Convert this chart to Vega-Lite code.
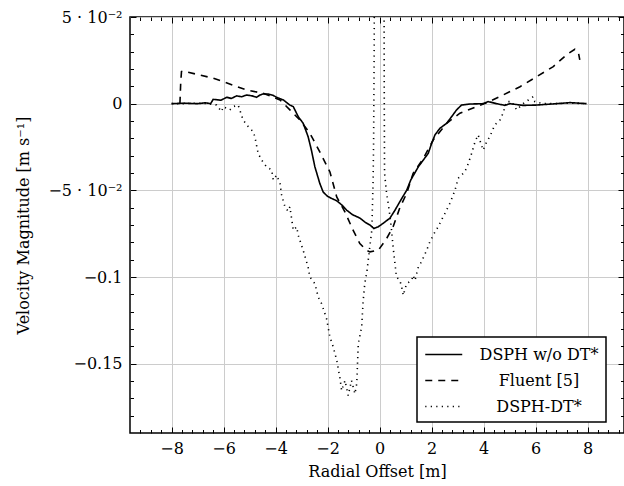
{
  "$schema": "https://vega.github.io/schema/vega-lite/v6.json",
  "width": 494,
  "height": 416,
  "autosize": "none",
  "padding": {"left": 130, "top": 17, "right": 0, "bottom": 53},
  "config": {
    "font": "DejaVu Serif",
    "view": {"stroke": "black", "strokeWidth": 1.5},
    "axis": {
      "labelFont": "DejaVu Serif",
      "titleFont": "DejaVu Serif",
      "labelFontSize": 16,
      "titleFontSize": 16,
      "titleFontWeight": "normal",
      "labelColor": "black",
      "titleColor": "black",
      "domain": false,
      "tickColor": "black",
      "tickWidth": 1,
      "gridColor": "#cccccc",
      "gridWidth": 1,
      "labelFlush": false,
      "labelOverlap": false
    },
    "legend": {"labelFont": "DejaVu Serif"}
  },
  "datasets": {
    "main": [
      {"series": "DSPH w/o DT*", "x": -8.0, "y": 0},
      {"series": "DSPH w/o DT*", "x": -7.5, "y": 0.0003},
      {"series": "DSPH w/o DT*", "x": -7.0, "y": 0},
      {"series": "DSPH w/o DT*", "x": -6.7, "y": 0.0005},
      {"series": "DSPH w/o DT*", "x": -6.5, "y": 0.0},
      {"series": "DSPH w/o DT*", "x": -6.4, "y": 0.0025},
      {"series": "DSPH w/o DT*", "x": -6.1, "y": 0.002},
      {"series": "DSPH w/o DT*", "x": -5.88, "y": 0.0037},
      {"series": "DSPH w/o DT*", "x": -5.7, "y": 0.003},
      {"series": "DSPH w/o DT*", "x": -5.5, "y": 0.0045},
      {"series": "DSPH w/o DT*", "x": -5.3, "y": 0.004},
      {"series": "DSPH w/o DT*", "x": -5.12, "y": 0.005},
      {"series": "DSPH w/o DT*", "x": -4.9, "y": 0.0045},
      {"series": "DSPH w/o DT*", "x": -4.73, "y": 0.0037},
      {"series": "DSPH w/o DT*", "x": -4.6, "y": 0.005},
      {"series": "DSPH w/o DT*", "x": -4.48, "y": 0.0056},
      {"series": "DSPH w/o DT*", "x": -4.28, "y": 0.0056},
      {"series": "DSPH w/o DT*", "x": -4.1, "y": 0.0048},
      {"series": "DSPH w/o DT*", "x": -3.96, "y": 0.0037},
      {"series": "DSPH w/o DT*", "x": -3.7, "y": 0.0021},
      {"series": "DSPH w/o DT*", "x": -3.45, "y": -0.0008},
      {"series": "DSPH w/o DT*", "x": -3.32, "y": -0.0017},
      {"series": "DSPH w/o DT*", "x": -3.13, "y": -0.0075},
      {"series": "DSPH w/o DT*", "x": -2.94, "y": -0.0113},
      {"series": "DSPH w/o DT*", "x": -2.75, "y": -0.019},
      {"series": "DSPH w/o DT*", "x": -2.62, "y": -0.027},
      {"series": "DSPH w/o DT*", "x": -2.49, "y": -0.0364},
      {"series": "DSPH w/o DT*", "x": -2.3, "y": -0.046},
      {"series": "DSPH w/o DT*", "x": -2.17, "y": -0.051},
      {"series": "DSPH w/o DT*", "x": -2.0, "y": -0.0535},
      {"series": "DSPH w/o DT*", "x": -1.8, "y": -0.055},
      {"series": "DSPH w/o DT*", "x": -1.65, "y": -0.056},
      {"series": "DSPH w/o DT*", "x": -1.45, "y": -0.0585},
      {"series": "DSPH w/o DT*", "x": -1.27, "y": -0.0614},
      {"series": "DSPH w/o DT*", "x": -1.05, "y": -0.064},
      {"series": "DSPH w/o DT*", "x": -0.76, "y": -0.066},
      {"series": "DSPH w/o DT*", "x": -0.55, "y": -0.0685},
      {"series": "DSPH w/o DT*", "x": -0.37, "y": -0.070},
      {"series": "DSPH w/o DT*", "x": -0.22, "y": -0.072},
      {"series": "DSPH w/o DT*", "x": -0.05, "y": -0.071},
      {"series": "DSPH w/o DT*", "x": 0.14, "y": -0.069},
      {"series": "DSPH w/o DT*", "x": 0.4, "y": -0.066},
      {"series": "DSPH w/o DT*", "x": 0.59, "y": -0.0615},
      {"series": "DSPH w/o DT*", "x": 0.78, "y": -0.0565},
      {"series": "DSPH w/o DT*", "x": 1.04, "y": -0.05},
      {"series": "DSPH w/o DT*", "x": 1.2, "y": -0.044},
      {"series": "DSPH w/o DT*", "x": 1.49, "y": -0.0364},
      {"series": "DSPH w/o DT*", "x": 1.87, "y": -0.0287},
      {"series": "DSPH w/o DT*", "x": 2.0, "y": -0.023},
      {"series": "DSPH w/o DT*", "x": 2.13, "y": -0.018},
      {"series": "DSPH w/o DT*", "x": 2.32, "y": -0.0142},
      {"series": "DSPH w/o DT*", "x": 2.58, "y": -0.0113},
      {"series": "DSPH w/o DT*", "x": 2.77, "y": -0.0075},
      {"series": "DSPH w/o DT*", "x": 2.96, "y": -0.0036},
      {"series": "DSPH w/o DT*", "x": 3.15, "y": -0.0008},
      {"series": "DSPH w/o DT*", "x": 3.47, "y": -0.0002},
      {"series": "DSPH w/o DT*", "x": 3.98, "y": 0},
      {"series": "DSPH w/o DT*", "x": 4.18, "y": 0.0012},
      {"series": "DSPH w/o DT*", "x": 4.5, "y": 0},
      {"series": "DSPH w/o DT*", "x": 4.82, "y": -0.001},
      {"series": "DSPH w/o DT*", "x": 5.01, "y": 0},
      {"series": "DSPH w/o DT*", "x": 5.52, "y": -0.001},
      {"series": "DSPH w/o DT*", "x": 6.04, "y": -0.0008},
      {"series": "DSPH w/o DT*", "x": 6.8, "y": 0},
      {"series": "DSPH w/o DT*", "x": 7.32, "y": 0.0006},
      {"series": "DSPH w/o DT*", "x": 7.96, "y": 0},
      {"series": "Fluent [5]", "x": -7.68, "y": 0},
      {"series": "Fluent [5]", "x": -7.65, "y": 0.012},
      {"series": "Fluent [5]", "x": -7.62, "y": 0.0185},
      {"series": "Fluent [5]", "x": -7.55, "y": 0.0188},
      {"series": "Fluent [5]", "x": -6.4, "y": 0.0147},
      {"series": "Fluent [5]", "x": -5.12, "y": 0.0079},
      {"series": "Fluent [5]", "x": -4.48, "y": 0.006},
      {"series": "Fluent [5]", "x": -3.83, "y": 0.0021},
      {"series": "Fluent [5]", "x": -3.45, "y": -0.0036},
      {"series": "Fluent [5]", "x": -3.07, "y": -0.0094},
      {"series": "Fluent [5]", "x": -2.68, "y": -0.0171},
      {"series": "Fluent [5]", "x": -2.3, "y": -0.0278},
      {"series": "Fluent [5]", "x": -1.91, "y": -0.0394},
      {"series": "Fluent [5]", "x": -1.65, "y": -0.0538},
      {"series": "Fluent [5]", "x": -1.33, "y": -0.0625},
      {"series": "Fluent [5]", "x": -1.02, "y": -0.073},
      {"series": "Fluent [5]", "x": -0.76, "y": -0.0807},
      {"series": "Fluent [5]", "x": -0.5, "y": -0.0846},
      {"series": "Fluent [5]", "x": -0.37, "y": -0.0855},
      {"series": "Fluent [5]", "x": -0.2, "y": -0.085},
      {"series": "Fluent [5]", "x": -0.05, "y": -0.0846},
      {"series": "Fluent [5]", "x": 0.27, "y": -0.0778},
      {"series": "Fluent [5]", "x": 0.52, "y": -0.071},
      {"series": "Fluent [5]", "x": 0.78, "y": -0.060},
      {"series": "Fluent [5]", "x": 1.04, "y": -0.0518},
      {"series": "Fluent [5]", "x": 1.29, "y": -0.0402},
      {"series": "Fluent [5]", "x": 1.68, "y": -0.0316},
      {"series": "Fluent [5]", "x": 2.06, "y": -0.021},
      {"series": "Fluent [5]", "x": 2.58, "y": -0.0113},
      {"series": "Fluent [5]", "x": 3.09, "y": -0.0055},
      {"series": "Fluent [5]", "x": 3.73, "y": -0.0017},
      {"series": "Fluent [5]", "x": 4.12, "y": 0.0006},
      {"series": "Fluent [5]", "x": 4.75, "y": 0.005},
      {"series": "Fluent [5]", "x": 5.4, "y": 0.0098},
      {"series": "Fluent [5]", "x": 6.04, "y": 0.0156},
      {"series": "Fluent [5]", "x": 6.68, "y": 0.0214},
      {"series": "Fluent [5]", "x": 7.19, "y": 0.0282},
      {"series": "Fluent [5]", "x": 7.51, "y": 0.0314},
      {"series": "Fluent [5]", "x": 7.64, "y": 0.030},
      {"series": "Fluent [5]", "x": 7.7, "y": 0.0253}
    ],
    "dt": [
      {"series": "DSPH-DT*", "x": -8.0, "y": 0},
      {"series": "DSPH-DT*", "x": -7.5, "y": 0},
      {"series": "DSPH-DT*", "x": -7.0, "y": 0.0003},
      {"series": "DSPH-DT*", "x": -6.6, "y": 0},
      {"series": "DSPH-DT*", "x": -6.27, "y": -0.0008},
      {"series": "DSPH-DT*", "x": -6.08, "y": -0.0046},
      {"series": "DSPH-DT*", "x": -6.01, "y": -0.0017},
      {"series": "DSPH-DT*", "x": -5.76, "y": -0.0036},
      {"series": "DSPH-DT*", "x": -5.63, "y": -0.0017},
      {"series": "DSPH-DT*", "x": -5.44, "y": -0.0008},
      {"series": "DSPH-DT*", "x": -5.25, "y": -0.0094},
      {"series": "DSPH-DT*", "x": -5.05, "y": -0.0133},
      {"series": "DSPH-DT*", "x": -4.86, "y": -0.0162},
      {"series": "DSPH-DT*", "x": -4.8, "y": -0.019},
      {"series": "DSPH-DT*", "x": -4.67, "y": -0.0287},
      {"series": "DSPH-DT*", "x": -4.54, "y": -0.0325},
      {"series": "DSPH-DT*", "x": -4.35, "y": -0.0364},
      {"series": "DSPH-DT*", "x": -4.15, "y": -0.0383},
      {"series": "DSPH-DT*", "x": -4.09, "y": -0.044},
      {"series": "DSPH-DT*", "x": -3.96, "y": -0.0412},
      {"series": "DSPH-DT*", "x": -3.83, "y": -0.046},
      {"series": "DSPH-DT*", "x": -3.77, "y": -0.0525},
      {"series": "DSPH-DT*", "x": -3.64, "y": -0.0595},
      {"series": "DSPH-DT*", "x": -3.52, "y": -0.062},
      {"series": "DSPH-DT*", "x": -3.45, "y": -0.0595},
      {"series": "DSPH-DT*", "x": -3.32, "y": -0.073},
      {"series": "DSPH-DT*", "x": -3.19, "y": -0.0711},
      {"series": "DSPH-DT*", "x": -3.13, "y": -0.0759},
      {"series": "DSPH-DT*", "x": -2.94, "y": -0.0846},
      {"series": "DSPH-DT*", "x": -2.75, "y": -0.0942},
      {"series": "DSPH-DT*", "x": -2.68, "y": -0.1},
      {"series": "DSPH-DT*", "x": -2.49, "y": -0.1038},
      {"series": "DSPH-DT*", "x": -2.36, "y": -0.1116},
      {"series": "DSPH-DT*", "x": -2.23, "y": -0.1154},
      {"series": "DSPH-DT*", "x": -2.04, "y": -0.124},
      {"series": "DSPH-DT*", "x": -1.91, "y": -0.1347},
      {"series": "DSPH-DT*", "x": -1.78, "y": -0.1405},
      {"series": "DSPH-DT*", "x": -1.65, "y": -0.148},
      {"series": "DSPH-DT*", "x": -1.53, "y": -0.1578},
      {"series": "DSPH-DT*", "x": -1.46, "y": -0.1655},
      {"series": "DSPH-DT*", "x": -1.33, "y": -0.1597},
      {"series": "DSPH-DT*", "x": -1.21, "y": -0.1684},
      {"series": "DSPH-DT*", "x": -1.08, "y": -0.1597},
      {"series": "DSPH-DT*", "x": -0.95, "y": -0.1674},
      {"series": "DSPH-DT*", "x": -0.88, "y": -0.1616},
      {"series": "DSPH-DT*", "x": -0.82, "y": -0.1385},
      {"series": "DSPH-DT*", "x": -0.69, "y": -0.1289},
      {"series": "DSPH-DT*", "x": -0.63, "y": -0.1135},
      {"series": "DSPH-DT*", "x": -0.57, "y": -0.1038},
      {"series": "DSPH-DT*", "x": -0.48, "y": -0.0961},
      {"series": "DSPH-DT*", "x": -0.42, "y": -0.088},
      {"series": "DSPH-DT*", "x": -0.3, "y": -0.073},
      {"series": "DSPH-DT*", "x": -0.25, "y": -0.044},
      {"series": "DSPH-DT*", "x": -0.23, "y": -0.02},
      {"series": "DSPH-DT*", "x": -0.21, "y": 0.03},
      {"series": "DSPH-DT*", "x": -0.2, "y": 0.07},
      {"series": "DSPH-DT*", "x": -0.02, "y": 0.12},
      {"series": "DSPH-DT*", "x": 0.17, "y": 0.07},
      {"series": "DSPH-DT*", "x": 0.18, "y": 0.0},
      {"series": "DSPH-DT*", "x": 0.19, "y": -0.04},
      {"series": "DSPH-DT*", "x": 0.27, "y": -0.052},
      {"series": "DSPH-DT*", "x": 0.33, "y": -0.0575},
      {"series": "DSPH-DT*", "x": 0.4, "y": -0.065},
      {"series": "DSPH-DT*", "x": 0.46, "y": -0.073},
      {"series": "DSPH-DT*", "x": 0.52, "y": -0.0827},
      {"series": "DSPH-DT*", "x": 0.59, "y": -0.0923},
      {"series": "DSPH-DT*", "x": 0.65, "y": -0.1},
      {"series": "DSPH-DT*", "x": 0.78, "y": -0.102},
      {"series": "DSPH-DT*", "x": 0.85, "y": -0.1058},
      {"series": "DSPH-DT*", "x": 0.91, "y": -0.1106},
      {"series": "DSPH-DT*", "x": 1.04, "y": -0.1038},
      {"series": "DSPH-DT*", "x": 1.23, "y": -0.102},
      {"series": "DSPH-DT*", "x": 1.29, "y": -0.099},
      {"series": "DSPH-DT*", "x": 1.36, "y": -0.102},
      {"series": "DSPH-DT*", "x": 1.49, "y": -0.0942},
      {"series": "DSPH-DT*", "x": 1.61, "y": -0.0913},
      {"series": "DSPH-DT*", "x": 1.81, "y": -0.0846},
      {"series": "DSPH-DT*", "x": 1.93, "y": -0.0798},
      {"series": "DSPH-DT*", "x": 2.13, "y": -0.074},
      {"series": "DSPH-DT*", "x": 2.25, "y": -0.0711},
      {"series": "DSPH-DT*", "x": 2.38, "y": -0.0672},
      {"series": "DSPH-DT*", "x": 2.51, "y": -0.0634},
      {"series": "DSPH-DT*", "x": 2.7, "y": -0.0576},
      {"series": "DSPH-DT*", "x": 2.9, "y": -0.05},
      {"series": "DSPH-DT*", "x": 3.02, "y": -0.0431},
      {"series": "DSPH-DT*", "x": 3.28, "y": -0.0393},
      {"series": "DSPH-DT*", "x": 3.41, "y": -0.0345},
      {"series": "DSPH-DT*", "x": 3.54, "y": -0.0287},
      {"series": "DSPH-DT*", "x": 3.67, "y": -0.022},
      {"series": "DSPH-DT*", "x": 3.79, "y": -0.018},
      {"series": "DSPH-DT*", "x": 3.98, "y": -0.0268},
      {"series": "DSPH-DT*", "x": 4.12, "y": -0.022},
      {"series": "DSPH-DT*", "x": 4.24, "y": -0.019},
      {"series": "DSPH-DT*", "x": 4.43, "y": -0.0123},
      {"series": "DSPH-DT*", "x": 4.63, "y": -0.0094},
      {"series": "DSPH-DT*", "x": 4.75, "y": -0.0055},
      {"series": "DSPH-DT*", "x": 4.88, "y": 0.0012},
      {"series": "DSPH-DT*", "x": 5.08, "y": 0.0012},
      {"series": "DSPH-DT*", "x": 5.27, "y": -0.0036},
      {"series": "DSPH-DT*", "x": 5.52, "y": 0},
      {"series": "DSPH-DT*", "x": 5.72, "y": 0.0021},
      {"series": "DSPH-DT*", "x": 5.91, "y": 0.004},
      {"series": "DSPH-DT*", "x": 5.97, "y": 0.0012},
      {"series": "DSPH-DT*", "x": 6.29, "y": 0},
      {"series": "DSPH-DT*", "x": 6.8, "y": 0},
      {"series": "DSPH-DT*", "x": 7.3, "y": 0.0003},
      {"series": "DSPH-DT*", "x": 8.0, "y": 0}
    ]
  },
  "layer": [
    {
      "data": {"name": "main"},
      "mark": {"type": "line", "clip": true, "strokeWidth": 1.6, "color": "black", "strokeCap": "butt"},
      "encoding": {
        "x": {
          "field": "x", "type": "quantitative",
          "scale": {"domain": [-9.6, 9.4], "nice": false, "zero": false},
          "axis": {
            "orient": "bottom",
            "values": [-9.2,-8.8,-8.4,-8,-7.6,-7.2,-6.8,-6.4,-6,-5.6,-5.2,-4.8,-4.4,-4,-3.6,-3.2,-2.8,-2.4,-2,-1.6,-1.2,-0.8,-0.4,0,0.4,0.8,1.2,1.6,2,2.4,2.8,3.2,3.6,4,4.4,4.8,5.2,5.6,6,6.4,6.8,7.2,7.6,8,8.4,8.8,9.2],
            "labelExpr": "abs(datum.value/2 - round(datum.value/2)) < 0.01 ? replace(format(datum.value, 'd'), '-', '−') : ''",
            "tickSize": {"condition": {"test": "abs(datum.value/2 - round(datum.value/2)) < 0.01", "value": -6}, "value": -3.5},
            "grid": true,
            "gridOpacity": {"condition": {"test": "abs(datum.value/2 - round(datum.value/2)) < 0.01", "value": 1}, "value": 0},
            "labelPadding": 13,
            "title": "Radial Offset [m]",
            "titleY": 38,
            "titleBaseline": "middle"
          }
        },
        "y": {
          "field": "y", "type": "quantitative",
          "scale": {"domain": [-0.19, 0.05], "nice": false, "zero": false},
          "axis": {
            "orient": "left",
            "values": [-0.18,-0.17,-0.16,-0.15,-0.14,-0.13,-0.12,-0.11,-0.1,-0.09,-0.08,-0.07,-0.06,-0.05,-0.04,-0.03,-0.02,-0.01,0,0.01,0.02,0.03,0.04,0.05],
            "labelExpr": "abs(datum.value-0.05)<0.001 ? '5 · 10⁻²' : abs(datum.value+0.05)<0.001 ? '−5 · 10⁻²' : abs(datum.value)<0.001 ? '0' : abs(datum.value+0.1)<0.001 ? '−0.1' : abs(datum.value+0.15)<0.001 ? '−0.15' : ''",
            "tickSize": {"condition": {"test": "abs(datum.value*20 - round(datum.value*20)) < 0.01", "value": -6}, "value": -3.5},
            "grid": true,
            "gridOpacity": {"condition": {"test": "abs(datum.value*20 - round(datum.value*20)) < 0.01", "value": 1}, "value": 0},
            "labelPadding": 14,
            "title": "Velocity Magnitude [m s⁻¹]",
            "titleX": -107,
            "titleBaseline": "middle"
          }
        },
        "strokeDash": {
          "field": "series", "type": "nominal",
          "scale": {"domain": ["DSPH w/o DT*", "Fluent [5]", "DSPH-DT*"], "range": [[1, 0], [7, 6], [1.2, 4.3]]},
          "legend": {
            "orient": "none",
            "legendX": 287,
            "legendY": 320,
            "title": null,
            "symbolType": "M-1,0H3",
            "symbolSize": 342,
            "symbolStrokeWidth": 1.6,
            "symbolStrokeColor": "black",
            "labelFont": "DejaVu Serif",
            "labelFontSize": 16,
            "labelColor": "black",
            "labelAlign": "center",
            "labelOffset": 94,
            "strokeColor": "black",
            "fillColor": "white",
            "padding": 7,
            "rowPadding": 7,
            "encode": {"legend": {"update": {"strokeWidth": {"value": 1.5}}}}
          }
        }
      }
    },
    {
      "data": {"name": "dt"},
      "mark": {"type": "line", "clip": true, "strokeWidth": 1.6, "color": "black", "strokeCap": "butt"},
      "encoding": {
        "x": {
          "field": "x", "type": "quantitative",
          "scale": {"domain": [-9.6, 9.4], "nice": false, "zero": false},
          "axis": {
            "orient": "top",
            "values": [-9.2,-8.8,-8.4,-8,-7.6,-7.2,-6.8,-6.4,-6,-5.6,-5.2,-4.8,-4.4,-4,-3.6,-3.2,-2.8,-2.4,-2,-1.6,-1.2,-0.8,-0.4,0,0.4,0.8,1.2,1.6,2,2.4,2.8,3.2,3.6,4,4.4,4.8,5.2,5.6,6,6.4,6.8,7.2,7.6,8,8.4,8.8,9.2],
            "labels": false,
            "grid": false,
            "title": null,
            "tickSize": {"condition": {"test": "abs(datum.value/2 - round(datum.value/2)) < 0.01", "value": -6}, "value": -3.5}
          }
        },
        "y": {
          "field": "y", "type": "quantitative",
          "scale": {"domain": [-0.19, 0.05], "nice": false, "zero": false},
          "axis": {
            "orient": "right",
            "values": [-0.18,-0.17,-0.16,-0.15,-0.14,-0.13,-0.12,-0.11,-0.1,-0.09,-0.08,-0.07,-0.06,-0.05,-0.04,-0.03,-0.02,-0.01,0,0.01,0.02,0.03,0.04,0.05],
            "labels": false,
            "grid": false,
            "title": null,
            "tickSize": {"condition": {"test": "abs(datum.value*20 - round(datum.value*20)) < 0.01", "value": -6}, "value": -3.5}
          }
        },
        "strokeDash": {
          "field": "series", "type": "nominal",
          "scale": {"domain": ["DSPH w/o DT*", "Fluent [5]", "DSPH-DT*"], "range": [[1, 0], [7, 6], [1.2, 4.3]]}
        }
      }
    }
  ],
  "resolve": {"axis": {"x": "independent", "y": "independent"}}
}
